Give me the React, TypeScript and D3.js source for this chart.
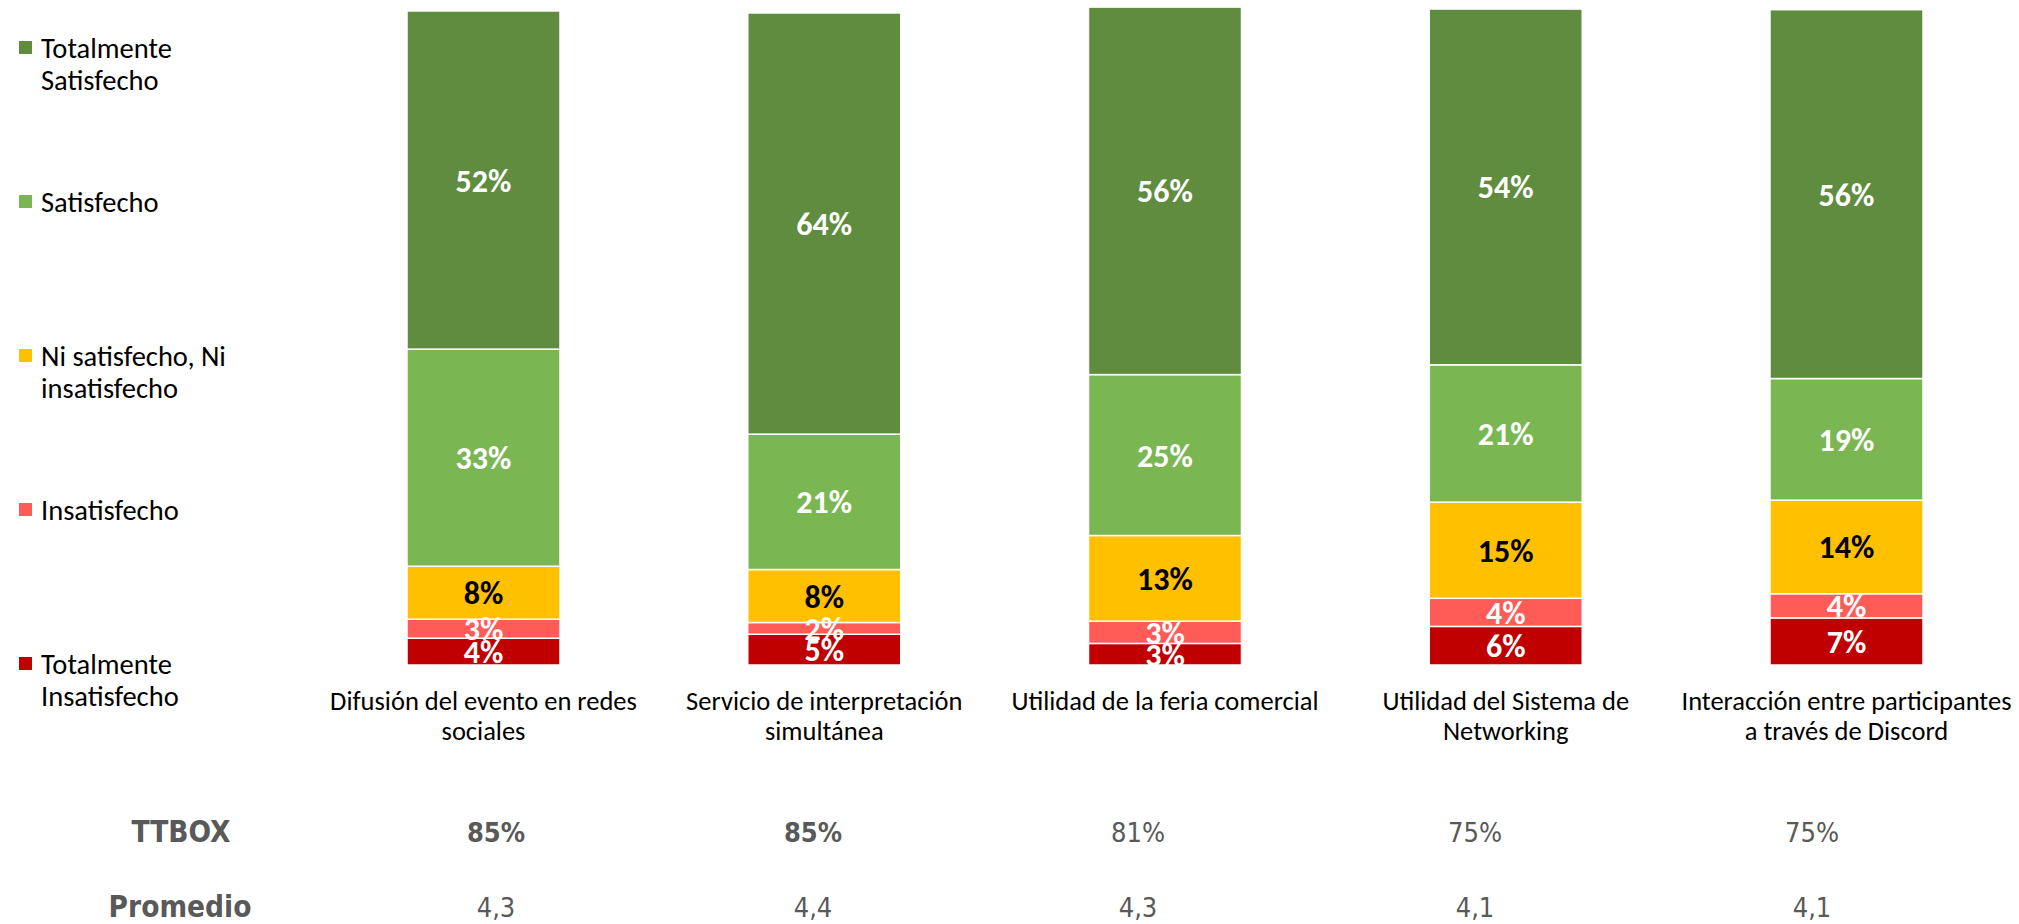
import React from "react";
import * as d3 from "d3";

// categorías (eje x)
const categories = [
  ["Difusión del evento en redes", "sociales"],
  ["Servicio de interpretación", "simultánea"],
  ["Utilidad de la feria comercial"],
  ["Utilidad del Sistema de", "Networking"],
  ["Interacción entre participantes", "a través de Discord"],
];

// series (de abajo hacia arriba)
const seriesNames = [
  ["Totalmente", "Insatisfecho"],
  ["Insatisfecho"],
  ["Ni satisfecho, Ni", "insatisfecho"],
  ["Satisfecho"],
  ["Totalmente", "Satisfecho"],
];
const totInsatisfecho = [4.1, 4.7, 3.3, 5.9, 7.2];
const insatisfecho = [2.9, 1.8, 3.4, 4.3, 3.7];
const neutral = [8.1, 8.1, 13.1, 14.7, 14.3];
const satisfecho = [33.2, 20.7, 24.6, 21.0, 18.6];
const totSatisfecho = [51.7, 64.4, 56.2, 54.4, 56.4];

const ttbox = ["85%", "85%", "81%", "75%", "75%"];
const ttboxBold = [true, true, false, false, false];
const promedio = ["4,3", "4,4", "4,3", "4,1", "4,1"];

const colors = ["#C00000", "#FF5B57", "#FFC000", "#7AB652", "#5F8C3E"];
const labelColors = ["#FFFFFF", "#FFFFFF", "#000000", "#FFFFFF", "#FFFFFF"];

const W = 2019;
const H = 924;
const FONT = "Carlito, Lato, sans-serif";
const TFONT = "'DejaVu Sans Condensed', 'DejaVu Sans', sans-serif";

export default function App() {
  const values = [totInsatisfecho, insatisfecho, neutral, satisfecho, totSatisfecho];
  const rows = categories.map((c, i) => {
    const r: any = { key: i };
    values.forEach((v, k) => (r["s" + k] = v[i]));
    return r;
  });
  const stack = d3.stack().keys(values.map((_, k) => "s" + k));
  const layers = stack(rows);

  const x = d3
    .scaleBand<number>()
    .domain(categories.map((_, i) => i))
    .range([407, 1923])
    .paddingInner(0.551)
    .paddingOuter(0);
  const y = d3.scaleLinear().domain([0, 100]).range([665, 11]);

  const tableX = [496, 813, 1138, 1475, 1812];
  const legendY = d3.scalePoint<number>().domain([4, 3, 2, 1, 0]).range([48, 664]);

  return (
    <svg width={W} height={H} style={{ position: "absolute", left: 0, top: 0, background: "#fff" }}>
      {layers.map((layer, k) => (
        <g key={k} fill={colors[k]}>
          {layer.map((d, i) => (
            <rect
              key={i}
              x={x(i)}
              y={y(d[1])}
              width={x.bandwidth()}
              height={y(d[0]) - y(d[1])}
              stroke="#fff"
              strokeWidth={1.5}
            />
          ))}
        </g>
      ))}
      {layers.map((layer, k) => (
        <g key={"l" + k}>
          {layer.map((d, i) => (
            <text
              key={i}
              x={(x(i) as number) + x.bandwidth() / 2}
              y={(y(d[0]) + y(d[1])) / 2}
              dy="0.36em"
              textAnchor="middle"
              fontFamily={FONT}
              fontWeight="bold"
              fontSize={32}
              fill={labelColors[k]}
            >
              {Math.round(d[1] - d[0]) + "%"}
            </text>
          ))}
        </g>
      ))}
      {categories.map((lines, i) => (
        <text
          key={"c" + i}
          x={(x(i) as number) + x.bandwidth() / 2}
          y={710}
          textAnchor="middle"
          fontFamily={FONT}
          fontSize={26.5}
          fill="#000"
        >
          {lines.map((t, j) => (
            <tspan key={j} x={(x(i) as number) + x.bandwidth() / 2} dy={j === 0 ? 0 : 30}>
              {t}
            </tspan>
          ))}
        </text>
      ))}
      {seriesNames.map((lines, k) => (
        <g key={"lg" + k}>
          <rect x={19} y={(legendY(k) as number) - 7} width={13} height={13} fill={colors[k]} />
          <text x={41} y={legendY(k)} fontFamily={FONT} fontSize={28.5} fill="#000">
            {lines.map((t, j) => (
              <tspan key={j} x={41} dy={j === 0 ? "0.36em" : 32}>
                {t}
              </tspan>
            ))}
          </text>
        </g>
      ))}
      <text x={181} y={842} textAnchor="middle" fontFamily={TFONT} fontWeight="bold" fontSize={29.5} fill="#595959">
        TTBOX
      </text>
      <text x={180} y={917} textAnchor="middle" fontFamily={TFONT} fontWeight="bold" fontSize={29.5} fill="#595959">
        Promedio
      </text>
      {ttbox.map((t, i) => (
        <text
          key={"t" + i}
          x={tableX[i]}
          y={842}
          textAnchor="middle"
          fontFamily={TFONT}
          fontWeight={ttboxBold[i] ? "bold" : "normal"}
          fontSize={27}
          fill="#595959"
        >
          {t}
        </text>
      ))}
      {promedio.map((t, i) => (
        <text key={"p" + i} x={tableX[i]} y={917} textAnchor="middle" fontFamily={TFONT} fontSize={27} fill="#595959">
          {t}
        </text>
      ))}
    </svg>
  );
}
